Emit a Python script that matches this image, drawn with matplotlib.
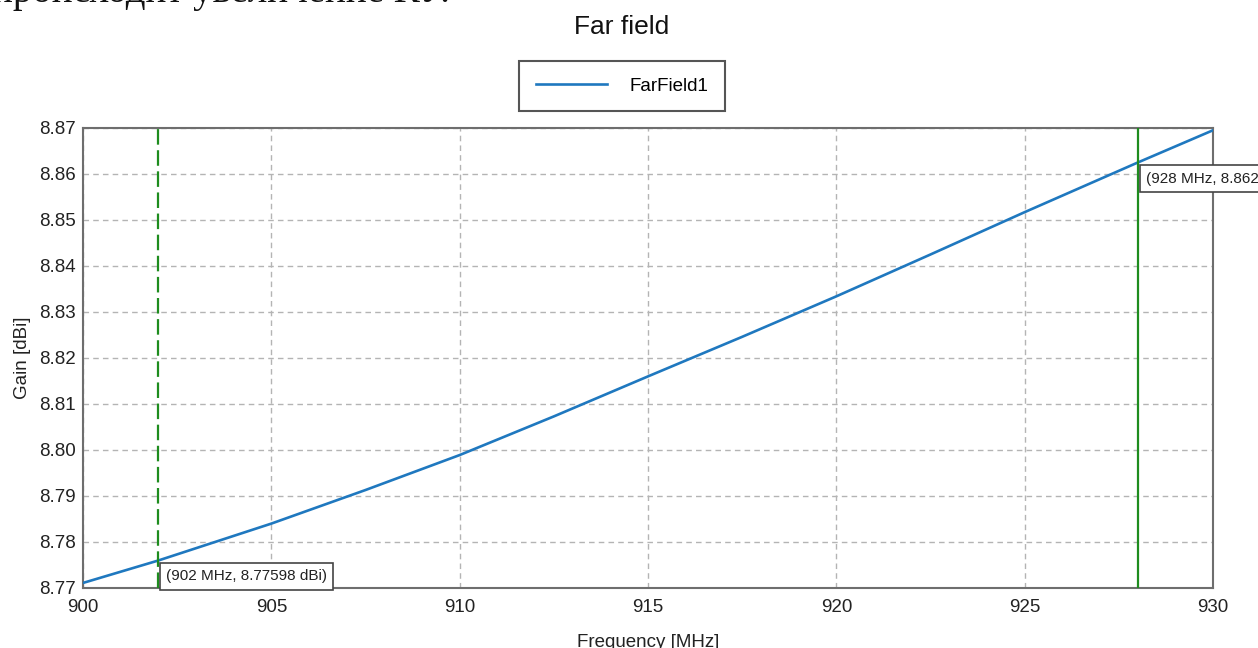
import numpy as np
import matplotlib.pyplot as plt

# values
freq = [900, 902, 905, 907.5, 910, 912.5, 915, 917.5, 920, 922.5, 925, 928, 930]
gain = [8.7711, 8.77598, 8.7840, 8.7913, 8.7989, 8.8073, 8.8160, 8.8246,
        8.8334, 8.8425, 8.8517, 8.86248, 8.8695]
marker_freqs = [902, 928]
marker_labels = ['(902 MHz, 8.77598 dBi)', '(928 MHz, 8.86248 dBi)']
xticks = [900, 905, 910, 915, 920, 925, 930]
yticks = [8.77, 8.78, 8.79, 8.80, 8.81, 8.82, 8.83, 8.84, 8.85, 8.86, 8.87]

plt.rcParams['font.family'] = ['Liberation Sans', 'DejaVu Sans']

fig = plt.figure(figsize=(12.58, 6.48), dpi=100)
ax = fig.add_axes([0.066, 0.0926, 0.8982, 0.7099])

ax.plot(freq, gain, color='#1f78bf', lw=1.9, label='FarField1', zorder=3)

green = '#1e8c1e'
ax.axvline(marker_freqs[0], color=green, lw=1.6, ls=(0, (7, 2.5)), zorder=4)
ax.axvline(marker_freqs[1], color=green, lw=1.6, zorder=4)

for f, lab in zip(marker_freqs, marker_labels):
    g = np.interp(f, freq, gain)
    ax.annotate(lab, xy=(f, g), xytext=(8, -9), textcoords='offset pixels',
                ha='left', va='top', fontsize=11, color='#222222',
                annotation_clip=False, zorder=6,
                bbox=dict(boxstyle='square,pad=0.4', fc='white', ec='#444444', lw=1.2))

ax.set_xlim(900, 930)
ax.set_ylim(8.77, 8.87)
ax.set_xticks(xticks)
ax.set_yticks(yticks)
ax.set_yticklabels([f'{v:.2f}' for v in yticks])
ax.tick_params(length=0, labelsize=13.5, colors='#222222')
ax.tick_params(axis='y', pad=5)
ax.tick_params(axis='x', pad=8)
ax.grid(True, color='#b4b4b4', ls=(0, (4, 3)), lw=1)
for s in ax.spines.values():
    s.set_color('#6e6e6e')
    s.set_linewidth(1.5)

ax.set_xlabel('Frequency [MHz]', fontsize=13.5, color='#222222', labelpad=13)
ax.set_ylabel('Gain [dBi]', fontsize=13.5, color='#222222', labelpad=6)

fig.text(0.4944, 1 - 27 / 648, 'Far field', ha='center', va='center',
         fontsize=19, color='#111111')

leg = ax.legend(loc='center', bbox_to_anchor=(0.4944, 1 - 86 / 648),
                bbox_transform=fig.transFigure, fontsize=13.5, handlelength=3.8,
                handletextpad=1.2, borderpad=0.9, fancybox=False, framealpha=1)
leg.get_frame().set_edgecolor('#555555')
leg.get_frame().set_linewidth(1.5)

# cut-off line of document text above the screenshot
fig.text(-0.006, 1 - 2 / 648, 'происходит увеличение КУ.', ha='left', va='baseline',
         fontsize=28, family=['Liberation Serif', 'DejaVu Serif'], color='#111111')

fig.savefig('out.png', dpi=100)
